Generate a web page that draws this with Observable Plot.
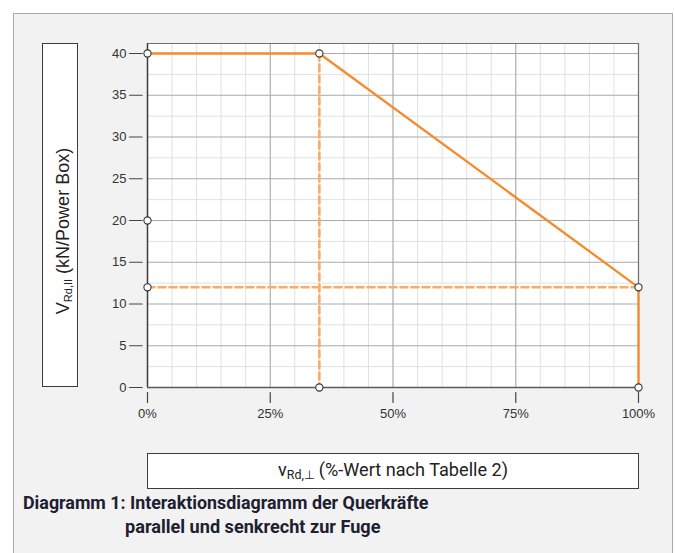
<!DOCTYPE html>
<html><head><meta charset="utf-8">
<script src="https://cdn.jsdelivr.net/npm/d3@7"></script>
<script src="https://cdn.jsdelivr.net/npm/@observablehq/plot@0.6"></script>
<style>
html,body{margin:0;padding:0;width:675px;height:553px;overflow:hidden;background:#fff;}
#panel{position:absolute;left:13px;top:13px;width:660px;height:620px;box-sizing:border-box;background:#f2f2f2;border:1.5px solid #a9a9a9;}
#chart{position:absolute;left:0;top:0;}
.box{position:absolute;box-sizing:border-box;background:#fff;border:1.5px solid #3c3c3c;}
#ylab{left:42px;top:43px;width:35.5px;height:344px;}
#ylab .t{position:absolute;left:calc(50% + 4px);top:calc(50% + 16px);transform:translate(-50%,-50%) rotate(-90deg);white-space:nowrap;font-family:"Liberation Sans",Arial,sans-serif;color:#222;line-height:18px;}
#xlab{left:147px;top:453px;width:491.5px;height:35.5px;display:flex;align-items:center;justify-content:center;}
#xlab .t{display:inline-block;white-space:nowrap;font-family:Roboto,sans-serif;font-size:17.5px;color:#222;line-height:20px;transform-origin:50% 50%;}
.cap{position:absolute;white-space:nowrap;font-family:Roboto,sans-serif;font-weight:700;font-size:18.5px;line-height:18.5px;color:#1c2030;transform-origin:0 50%;}
#cap1{left:22.5px;top:494px;}
#cap2{left:125px;top:518px;}
</style>
</head><body>
<div id="panel"></div>
<div id="chart"></div>
<div class="box" id="ylab"><span class="t"><span style="font-size:18px">V</span><span style="font-size:11px;position:relative;top:3px">Rd,II</span><span style="font-size:18px"> (kN/Power Box)</span></span></div>
<div class="box" id="xlab"><span class="t">v<span style="font-size:12px;position:relative;top:3px">Rd,⊥</span> (%-Wert nach Tabelle 2)</span></div>
<div class="cap" id="cap1">Diagramm 1: Interaktionsdiagramm der Querkräfte</div>
<div class="cap" id="cap2">parallel und senkrecht zur Fuge</div>
<script>
// ---- data ----
const xTicks = [0, 25, 50, 75, 100];
const xTickLabels = ["0%", "25%", "50%", "75%", "100%"];
const xMinorTicks = [0,5,10,15,20,25,30,35,40,45,50,55,60,65,70,75,80,85,90,95,100];
const yTicks = [0, 5, 10, 15, 20, 25, 30, 35, 40];
const yTickLabels = ["0", "5", "10", "15", "20", "25", "30", "35", "40"];
const yMinorTicks = [2.5, 7.5, 12.5, 17.5, 22.5, 27.5, 32.5, 37.5];
const yMax = 41.2;
const xMax = 100;
const curveX = [0, 35, 100, 100];
const curveY = [40, 40, 12, 0];
const dashVX = [35, 35];
const dashVY = [40, 0];
const dashHX = [0, 100];
const dashHY = [12, 12];
const pointX = [0, 35, 0, 0, 35, 100, 100];
const pointY = [40, 40, 20, 12, 0, 12, 0];

const curve = curveX.map((x, i) => ({x, y: curveY[i]}));
const dashV = dashVX.map((x, i) => ({x, y: dashVY[i]}));
const dashH = dashHX.map((x, i) => ({x, y: dashHY[i]}));
const pts = pointX.map((x, i) => ({x, y: pointY[i]}));
const yTickData = yTicks.map((v, i) => ({v, label: yTickLabels[i]}));
const xTickData = xTicks.map((v, i) => ({v, label: xTickLabels[i]}));

const orange = "#f68a2b";
const orangeLight = "#fbab62";
const tickShape = {draw(context, l) { context.moveTo(0, 0); context.lineTo(0, -l); }};

const plot = Plot.plot({
  width: 675,
  height: 440,
  marginLeft: 147,
  marginRight: 37,
  marginTop: 43,
  marginBottom: 53,
  style: {background: "transparent", fontFamily: "'Liberation Sans', Arial, sans-serif", fontSize: "13px", overflow: "visible"},
  x: {domain: [0, xMax], axis: null},
  y: {domain: [0, yMax], axis: null},
  marks: [
    Plot.frame({fill: "white", stroke: null}),
    Plot.gridX(xMinorTicks, {stroke: "#dfe1e1", strokeOpacity: 1, strokeWidth: 1}),
    Plot.gridY(yMinorTicks, {stroke: "#dfe1e1", strokeOpacity: 1, strokeWidth: 1}),
    Plot.gridX(xTicks.slice(1, -1), {stroke: "#a9a9a9", strokeOpacity: 1, strokeWidth: 1}),
    Plot.gridY(yTicks.slice(1), {stroke: "#a9a9a9", strokeOpacity: 1, strokeWidth: 1}),
    Plot.ruleY([yMax], {stroke: "#6b6e72", strokeWidth: 1.2}),
    Plot.ruleX([xMax], {stroke: "#6b6e72", strokeWidth: 1.2}),
    Plot.ruleX([0], {stroke: "#3c3c3c", strokeWidth: 1.5}),
    Plot.ruleY([0], {stroke: "#5a5a5a", strokeWidth: 1.5}),
    // y axis ticks & labels
    Plot.vector(yTickData, {y: "v", frameAnchor: "left", rotate: -90, length: 12.7, anchor: "start", dx: -5.3, shape: tickShape, stroke: "#444", strokeWidth: 1.2}),
    Plot.text(yTickData, {y: "v", frameAnchor: "left", text: "label", textAnchor: "end", dx: -21, fontSize: 13, fill: "#333"}),
    // x axis ticks & labels
    Plot.vector(xTickData, {x: "v", frameAnchor: "bottom", rotate: 180, length: 10, anchor: "start", dy: 5, shape: tickShape, stroke: "#444", strokeWidth: 1.2}),
    Plot.text(xTickData, {x: "v", frameAnchor: "bottom", text: "label", lineAnchor: "top", dy: 21, fontSize: 13, fill: "#333"}),
    // lines
    Plot.line(dashV, {x: "x", y: "y", stroke: orangeLight, strokeWidth: 2.6, strokeDasharray: "7,4"}),
    Plot.line(dashH, {x: "x", y: "y", stroke: orangeLight, strokeWidth: 2.6, strokeDasharray: "7,4"}),
    Plot.line(curve, {x: "x", y: "y", stroke: orange, strokeWidth: 2.3}),
    Plot.dot(pts, {x: "x", y: "y", r: 3.6, fill: "white", stroke: "#333", strokeWidth: 1.1})
  ]
});
document.getElementById("chart").appendChild(plot);

function fit(el, target) {
  const w = el.getBoundingClientRect().width;
  if (w > 0) el.style.transform = `scaleX(${target / w})`;
}
fit(document.querySelector("#xlab .t"), 230);
fit(document.getElementById("cap1"), 405.5);
fit(document.getElementById("cap2"), 255.5);
</script>
</body></html>
